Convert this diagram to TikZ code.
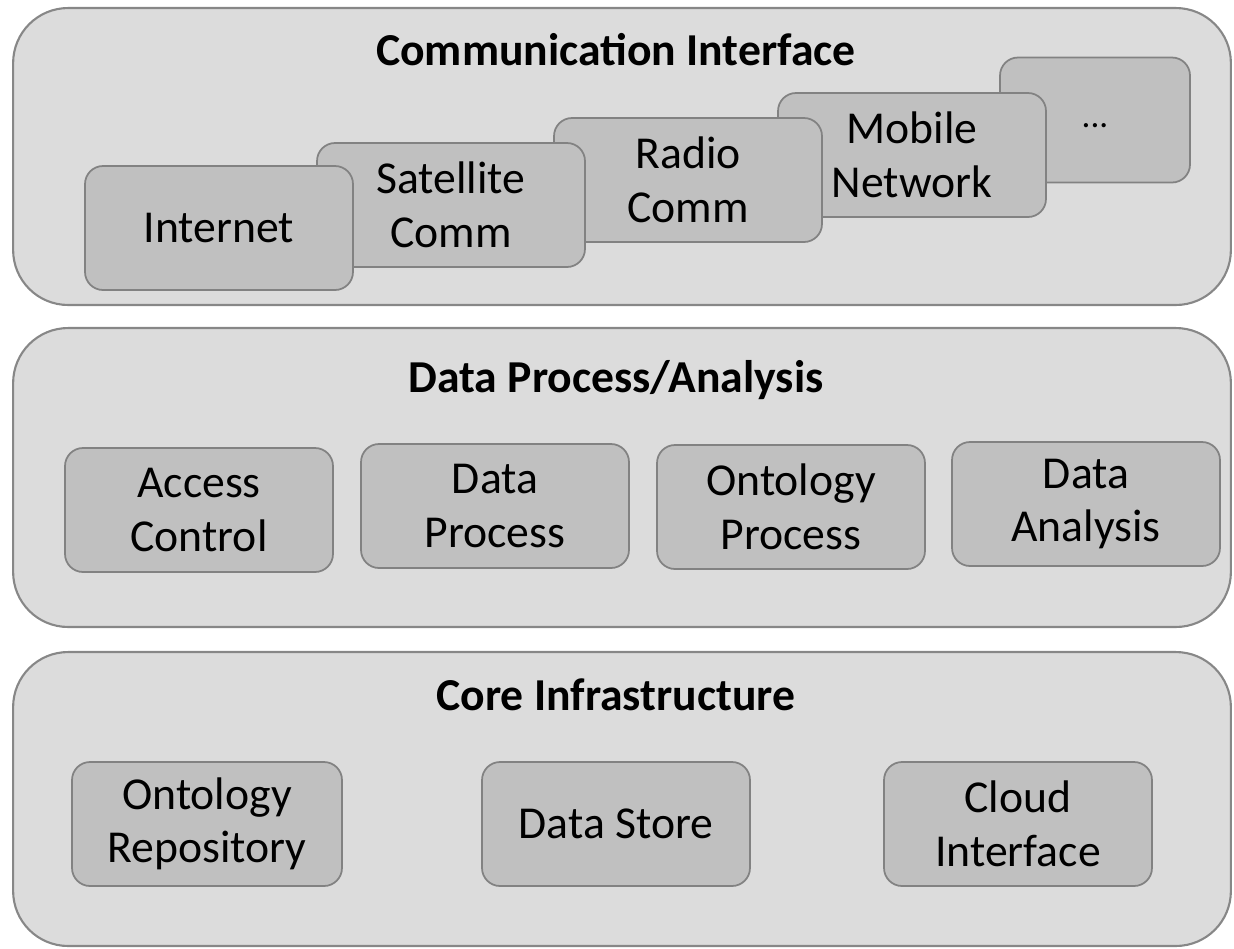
\documentclass[tikz,border=0pt]{standalone}
\usepackage{fontspec}
\setmainfont{Carlito}
\usepackage{tikz}

\definecolor{panelfill}{RGB}{220,220,220}
\definecolor{panelline}{RGB}{135,135,135}
\definecolor{boxfill}{RGB}{192,192,192}
\definecolor{boxline}{RGB}{130,130,130}

\begin{document}
\begin{tikzpicture}[x=0.02cm, y=-0.02cm,
        layer/.style={draw=panelline, fill=panelfill, line width=1.2pt, rounded corners=1.1cm,
            minimum width=24.36cm, inner sep=0pt},
        box/.style={draw=boxline, fill=boxfill, line width=1pt, rounded corners=0.36cm,
            minimum width=5.36cm, minimum height=2.48cm, inner sep=0pt, align=center,
            font=\fontsize{26}{30.5}\selectfont},
        title/.style={font=\bfseries\fontsize{26}{30}\selectfont}]
        \useasboundingbox (0,0) rectangle (1234,948);

        % three layers, top to bottom
        \node[layer, minimum height=5.94cm] (comm) at (622,156.5) {};
        \node[layer, minimum height=5.98cm] (proc) at (622,477.5) {};
        \node[layer, minimum height=5.88cm] (core) at (622,799) {};

        \node[title] (commtitle) at (616,50) {Communication Interface};
        \node[title] (proctitle) at (616,380) {Data Process/Analysis};
        \node[title] (coretitle) at (616,695) {Core Infrastructure};

        % stacked links, back one first
        \node[box, minimum width=3.8cm, minimum height=2.5cm,
            font=\fontsize{20}{24}\selectfont] (more) at (1095,120) {\raisebox{-0.45em}{...}};
        \node[box] (mobile) at (912,155) {Mobile\\Network};
        \node[box] (radio) at (688,180) {Radio\\Comm};
        \node[box] (sat) at (451,205) {Satellite\\Comm};
        \node[box] (inet) at (219,228) {Internet};

        \node[box] (access) at (199,510) {Access\\Control};
        \node[box] (dproc) at (495,506) {Data\\Process};
        \node[box] (oproc) at (791,507) {Ontology\\Process};
        \node[box] (danal) at (1086,504) {Data\\Analysis};

        \node[box, minimum width=5.4cm] (orepo) at (207,824) {Ontology\\Repository};
        \node[box] (dstore) at (616,824) {Data Store};
        \node[box] (cloud) at (1018,824) {Cloud\\Interface};
    \end{tikzpicture}
\end{document}
